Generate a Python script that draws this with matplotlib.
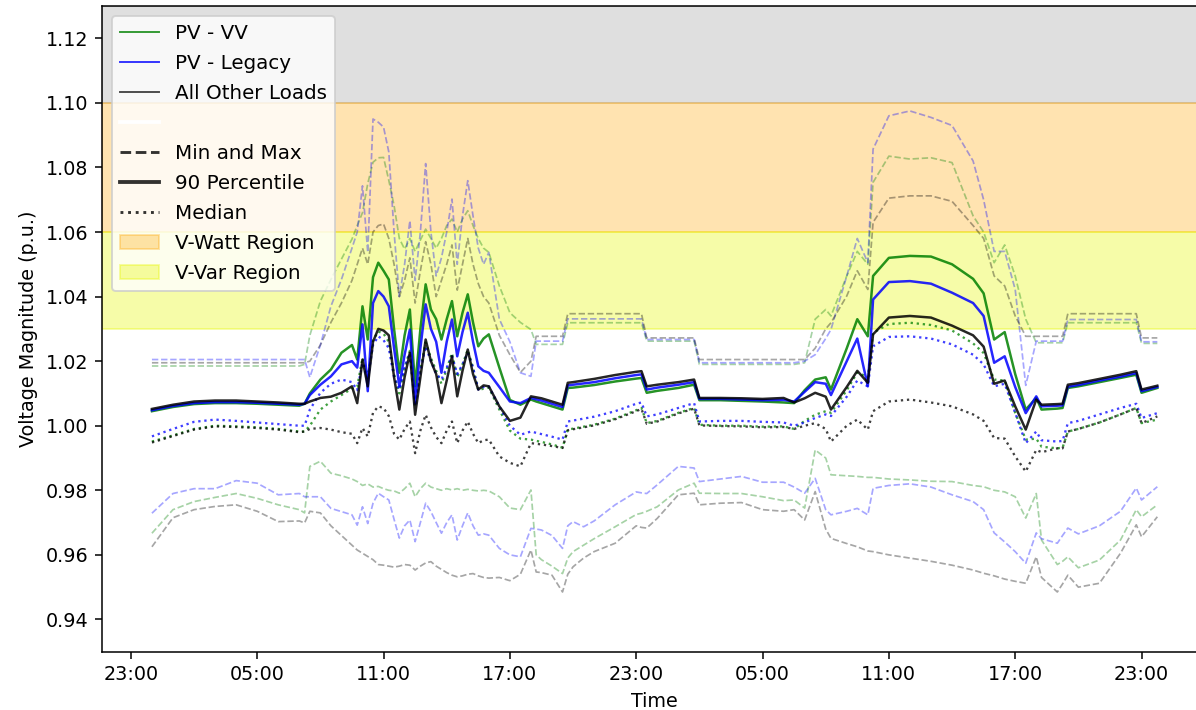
import numpy as np
import pandas as pd
import matplotlib
matplotlib.use("Agg")
import matplotlib.pyplot as plt
import matplotlib.dates as mdates
from matplotlib.lines import Line2D
from matplotlib.patches import Patch

# hours after midnight of the first day
hours = [0, 1, 2, 3, 4, 5, 6, 7,
         7.25, 7.5, 8, 8.5, 9, 9.5,
         9.75, 10, 10.25, 10.5, 10.75, 11, 11.25, 11.5, 11.75, 12, 12.25, 12.5, 12.75,
         13, 13.25, 13.5, 13.75, 14, 14.25, 14.5, 14.75, 15, 15.25, 15.5, 15.75, 16,
         16.5, 17, 17.5, 18, 18.25, 18.5, 19, 19.5, 19.75, 20,
         20.5, 21, 22, 23, 23.25, 23.5, 24, 25, 25.75, 26,
         27, 28, 29, 30, 30.5, 31, 31.5, 32, 32.25, 33,
         33.5, 34, 34.25, 35, 36, 37, 38, 39, 39.5, 40,
         40.5, 41, 41.5, 42, 42.25, 43, 43.25, 43.5, 44, 45,
         46, 46.75, 47, 47.75]

# PV - VV
vv_max = [1.0185] * 8 + [
    1.0190, 1.0280, 1.0386, 1.0453, 1.0516, 1.0578,
    1.0620, 1.0660, 1.0750, 1.0816, 1.0830, 1.0831, 1.0760, 1.0682, 1.0580, 1.0547, 1.0580, 1.0540, 1.0575,
    1.0609, 1.0580, 1.0550, 1.0580, 1.0620, 1.0640, 1.0600, 1.0640, 1.0666, 1.0620, 1.0580, 1.0550, 1.0537,
    1.0433, 1.0350, 1.0320, 1.0298, 1.0252, 1.0252, 1.0252, 1.0252, 1.0319, 1.0319,
    1.0319, 1.0319, 1.0319, 1.0319, 1.0319, 1.0262, 1.0262, 1.0262, 1.0262, 1.0190,
    1.0190, 1.0190, 1.0190, 1.0190, 1.0190, 1.0195, 1.0330, 1.0360, 1.0340, 1.0464,
    1.0540, 1.0500, 1.0754, 1.0835, 1.0826, 1.0830, 1.0815, 1.0650, 1.0600, 1.0505,
    1.0560, 1.0464, 1.0330, 1.0257, 1.0257, 1.0257, 1.0257, 1.0319, 1.0319, 1.0319,
    1.0319, 1.0319, 1.0255, 1.0255]
vv_p90 = [
    1.0045, 1.0058, 1.0067, 1.0070, 1.0070, 1.0068, 1.0065, 1.0062,
    1.0068, 1.0100, 1.0143, 1.0174, 1.0226, 1.0250,
    1.0205, 1.0370, 1.0267, 1.0460, 1.0505, 1.0480, 1.0453, 1.0300, 1.0164, 1.0280, 1.0360, 1.0122, 1.0300,
    1.0438, 1.0360, 1.0330, 1.0267, 1.0330, 1.0386, 1.0277, 1.0350, 1.0407, 1.0320, 1.0246, 1.0270, 1.0283,
    1.0180, 1.0080, 1.0065, 1.0081, 1.0075, 1.0070, 1.0060, 1.0050, 1.0117, 1.0118,
    1.0122, 1.0126, 1.0137, 1.0146, 1.0148, 1.0102, 1.0108, 1.0117, 1.0127, 1.0079,
    1.0079, 1.0077, 1.0075, 1.0072, 1.0070, 1.0110, 1.0143, 1.0150, 1.0112, 1.0240,
    1.0330, 1.0277, 1.0464, 1.0520, 1.0526, 1.0524, 1.0500, 1.0455, 1.0410, 1.0267,
    1.0290, 1.0160, 1.0050, 1.0086, 1.0050, 1.0053, 1.0055, 1.0117, 1.0122, 1.0135,
    1.0148, 1.0158, 1.0102, 1.0117]
vv_med = [
    0.9951, 0.9970, 0.9990, 1.0000, 0.9998, 0.9995, 0.9990, 0.9982,
    0.9982, 1.0000, 1.0050, 1.0075, 1.0095, 1.0115,
    1.0120, 1.0210, 1.0150, 1.0265, 1.0292, 1.0285, 1.0260, 1.0160, 1.0100, 1.0180, 1.0232, 1.0060, 1.0175,
    1.0258, 1.0210, 1.0170, 1.0130, 1.0175, 1.0225, 1.0150, 1.0190, 1.0235, 1.0180, 1.0110, 1.0115, 1.0118,
    1.0050, 0.9985, 0.9960, 0.9957, 0.9953, 0.9950, 0.9942, 0.9932, 0.9988, 0.9991,
    0.9997, 1.0003, 1.0022, 1.0048, 1.0055, 1.0008, 1.0015, 1.0040, 1.0055, 1.0003,
    1.0000, 1.0000, 0.9997, 0.9998, 0.9990, 1.0015, 1.0034, 1.0045, 1.0040, 1.0110,
    1.0165, 1.0150, 1.0288, 1.0315, 1.0319, 1.0312, 1.0295, 1.0255, 1.0225, 1.0143,
    1.0140, 1.0040, 0.9957, 0.9960, 0.9935, 0.9930, 0.9932, 0.9982, 0.9990, 1.0010,
    1.0035, 1.0055, 1.0008, 1.0019]
vv_min = [
    0.9667, 0.9740, 0.9765, 0.9778, 0.9790, 0.9775, 0.9755, 0.9740,
    0.9730, 0.9874, 0.9890, 0.9853, 0.9845, 0.9835,
    0.9827, 0.9815, 0.9820, 0.9810, 0.9812, 0.9805, 0.9800, 0.9798, 0.9791, 0.9805, 0.9822, 0.9780, 0.9805,
    0.9822, 0.9810, 0.9805, 0.9800, 0.9805, 0.9801, 0.9805, 0.9800, 0.9803, 0.9800, 0.9798, 0.9800, 0.9798,
    0.9780, 0.9745, 0.9740, 0.9801, 0.9600, 0.9585, 0.9565, 0.9542, 0.9590, 0.9610,
    0.9630, 0.9650, 0.9687, 0.9725, 0.9729, 0.9735, 0.9749, 0.9801, 0.9822, 0.9791,
    0.9790, 0.9790, 0.9780, 0.9768, 0.9770, 0.9745, 0.9925, 0.9900, 0.9848, 0.9845,
    0.9843, 0.9840, 0.9840, 0.9835, 0.9832, 0.9828, 0.9827, 0.9815, 0.9811, 0.9800,
    0.9795, 0.9780, 0.9714, 0.9790, 0.9646, 0.9570, 0.9580, 0.9594, 0.9560, 0.9584,
    0.9646, 0.9740, 0.9718, 0.9755]

# PV - Legacy
leg_max = [1.0205] * 8 + [
    1.0205, 1.0150, 1.0250, 1.0370, 1.0453, 1.0550,
    1.0600, 1.0743, 1.0537, 1.0950, 1.0940, 1.0925, 1.0848, 1.0600, 1.0400, 1.0500, 1.0635, 1.0450, 1.0600,
    1.0812, 1.0600, 1.0464, 1.0520, 1.0600, 1.0702, 1.0500, 1.0650, 1.0759, 1.0650, 1.0550, 1.0500, 1.0537,
    1.0330, 1.0260, 1.0164, 1.0153, 1.0262, 1.0262, 1.0262, 1.0262, 1.0331, 1.0331,
    1.0331, 1.0331, 1.0331, 1.0331, 1.0331, 1.0267, 1.0267, 1.0267, 1.0267, 1.0195,
    1.0195, 1.0195, 1.0195, 1.0195, 1.0195, 1.0200, 1.0220, 1.0270, 1.0298, 1.0464,
    1.0580, 1.0505, 1.0857, 1.0960, 1.0975, 1.0955, 1.0930, 1.0820, 1.0700, 1.0540,
    1.0540, 1.0422, 1.0125, 1.0262, 1.0262, 1.0262, 1.0262, 1.0329, 1.0329, 1.0329,
    1.0329, 1.0329, 1.0260, 1.0260]
leg_p90 = [
    1.0048, 1.0061, 1.0070, 1.0073, 1.0073, 1.0071, 1.0068, 1.0065,
    1.0068, 1.0095, 1.0127, 1.0153, 1.0190, 1.0200,
    1.0180, 1.0314, 1.0107, 1.0380, 1.0417, 1.0400, 1.0370, 1.0240, 1.0122, 1.0220, 1.0298, 1.0070, 1.0240,
    1.0376, 1.0300, 1.0260, 1.0164, 1.0260, 1.0329, 1.0215, 1.0290, 1.0350, 1.0260, 1.0184, 1.0170, 1.0164,
    1.0120, 1.0075, 1.0070, 1.0086, 1.0082, 1.0078, 1.0068, 1.0058, 1.0125, 1.0127,
    1.0131, 1.0135, 1.0147, 1.0157, 1.0159, 1.0112, 1.0118, 1.0127, 1.0135, 1.0083,
    1.0083, 1.0081, 1.0079, 1.0080, 1.0075, 1.0105, 1.0135, 1.0130, 1.0095, 1.0200,
    1.0270, 1.0122, 1.0391, 1.0445, 1.0448, 1.0440, 1.0412, 1.0380, 1.0340, 1.0195,
    1.0215, 1.0120, 1.0039, 1.0091, 1.0060, 1.0062, 1.0063, 1.0121, 1.0126, 1.0140,
    1.0152, 1.0163, 1.0107, 1.0120]
leg_med = [
    0.9967, 0.9990, 1.0012, 1.0019, 1.0015, 1.0010, 1.0005, 1.0000,
    1.0000, 1.0050, 1.0102, 1.0130, 1.0143, 1.0135,
    1.0110, 1.0195, 1.0143, 1.0250, 1.0277, 1.0265, 1.0240, 1.0150, 1.0112, 1.0180, 1.0226, 1.0060, 1.0170,
    1.0246, 1.0200, 1.0160, 1.0143, 1.0180, 1.0215, 1.0160, 1.0190, 1.0226, 1.0180, 1.0112, 1.0120, 1.0122,
    1.0060, 1.0000, 0.9972, 0.9982, 0.9978, 0.9974, 0.9966, 0.9957, 1.0013, 1.0016,
    1.0022, 1.0028, 1.0045, 1.0068, 1.0072, 1.0029, 1.0035, 1.0055, 1.0070, 1.0013,
    1.0015, 1.0015, 1.0012, 1.0010, 1.0000, 1.0010, 1.0024, 1.0035, 1.0030, 1.0090,
    1.0140, 1.0122, 1.0246, 1.0275, 1.0277, 1.0270, 1.0252, 1.0220, 1.0190, 1.0122,
    1.0130, 1.0040, 0.9946, 0.9982, 0.9955, 0.9951, 0.9953, 1.0008, 1.0015, 1.0035,
    1.0055, 1.0068, 1.0024, 1.0039]
leg_min = [
    0.9729, 0.9790, 0.9805, 0.9805, 0.9830, 0.9822, 0.9786, 0.9790,
    0.9780, 0.9780, 0.9780, 0.9744, 0.9734, 0.9724,
    0.9692, 0.9749, 0.9697, 0.9760, 0.9791, 0.9780, 0.9770, 0.9710, 0.9652, 0.9690, 0.9708, 0.9641, 0.9700,
    0.9760, 0.9734, 0.9700, 0.9667, 0.9700, 0.9724, 0.9646, 0.9690, 0.9730, 0.9690, 0.9661, 0.9665, 0.9661,
    0.9620, 0.9600, 0.9594, 0.9682, 0.9680, 0.9677, 0.9660, 0.9620, 0.9690, 0.9703,
    0.9687, 0.9705, 0.9755, 0.9795, 0.9792, 0.9790, 0.9817, 0.9874, 0.9869, 0.9827,
    0.9835, 0.9843, 0.9825, 0.9825, 0.9810, 0.9791, 0.9837, 0.9740, 0.9724, 0.9735,
    0.9744, 0.9724, 0.9806, 0.9815, 0.9820, 0.9810, 0.9786, 0.9765, 0.9740, 0.9668,
    0.9640, 0.9610, 0.9574, 0.9668, 0.9650, 0.9636, 0.9660, 0.9683, 0.9665, 0.9690,
    0.9735, 0.9807, 0.9770, 0.9811]

# All other loads
aol_max = [1.0195] * 8 + [
    1.0195, 1.0200, 1.0250, 1.0320, 1.0380, 1.0450,
    1.0500, 1.0550, 1.0500, 1.0600, 1.0620, 1.0625, 1.0580, 1.0500, 1.0400, 1.0450, 1.0520, 1.0380, 1.0480,
    1.0570, 1.0500, 1.0400, 1.0450, 1.0500, 1.0560, 1.0420, 1.0500, 1.0580, 1.0500, 1.0440, 1.0400, 1.0380,
    1.0280, 1.0220, 1.0165, 1.0200, 1.0277, 1.0277, 1.0277, 1.0277, 1.0347, 1.0347,
    1.0347, 1.0347, 1.0347, 1.0347, 1.0347, 1.0272, 1.0272, 1.0272, 1.0272, 1.0205,
    1.0205, 1.0205, 1.0205, 1.0205, 1.0205, 1.0205, 1.0240, 1.0300, 1.0319, 1.0402,
    1.0480, 1.0422, 1.0630, 1.0705, 1.0712, 1.0712, 1.0695, 1.0620, 1.0580, 1.0464,
    1.0433, 1.0340, 1.0277, 1.0277, 1.0277, 1.0277, 1.0277, 1.0347, 1.0347, 1.0347,
    1.0347, 1.0347, 1.0272, 1.0272]
aol_p90 = [
    1.0052, 1.0065, 1.0075, 1.0078, 1.0078, 1.0075, 1.0072, 1.0068,
    1.0068, 1.0075, 1.0086, 1.0090, 1.0102, 1.0122,
    1.0070, 1.0205, 1.0122, 1.0260, 1.0300, 1.0295, 1.0280, 1.0150, 1.0050, 1.0150, 1.0226, 1.0034, 1.0150,
    1.0267, 1.0200, 1.0160, 1.0070, 1.0140, 1.0215, 1.0091, 1.0170, 1.0236, 1.0160, 1.0112, 1.0125, 1.0122,
    1.0060, 1.0015, 1.0025, 1.0091, 1.0088, 1.0085, 1.0075, 1.0065, 1.0133, 1.0135,
    1.0140, 1.0145, 1.0157, 1.0167, 1.0169, 1.0122, 1.0127, 1.0135, 1.0143, 1.0086,
    1.0086, 1.0085, 1.0083, 1.0086, 1.0072, 1.0085, 1.0102, 1.0090, 1.0050, 1.0120,
    1.0170, 1.0133, 1.0283, 1.0335, 1.0340, 1.0335, 1.0310, 1.0280, 1.0245, 1.0130,
    1.0140, 1.0060, 0.9988, 1.0081, 1.0065, 1.0067, 1.0068, 1.0127, 1.0132, 1.0145,
    1.0158, 1.0169, 1.0112, 1.0124]
aol_med = [
    0.9948, 0.9968, 0.9988, 0.9998, 0.9996, 0.9993, 0.9988, 0.9980,
    0.9982, 0.9990, 0.9993, 0.9988, 0.9980, 0.9975,
    0.9946, 0.9993, 0.9967, 1.0040, 1.0060, 1.0055, 1.0030, 0.9975, 0.9957, 0.9990, 1.0013, 0.9915, 0.9985,
    1.0034, 0.9995, 0.9965, 0.9946, 0.9985, 1.0013, 0.9946, 0.9985, 1.0013, 0.9975, 0.9946, 0.9955, 0.9957,
    0.9905, 0.9885, 0.9874, 0.9946, 0.9944, 0.9942, 0.9937, 0.9931, 0.9986, 0.9989,
    0.9995, 1.0001, 1.0020, 1.0045, 1.0052, 1.0006, 1.0013, 1.0038, 1.0053, 1.0001,
    0.9999, 0.9998, 0.9995, 0.9996, 0.9990, 1.0000, 1.0008, 0.9990, 0.9951, 1.0000,
    1.0019, 0.9988, 1.0045, 1.0075, 1.0081, 1.0072, 1.0060, 1.0035, 1.0015, 0.9962,
    0.9960, 0.9905, 0.9858, 0.9925, 0.9918, 0.9930, 0.9930, 0.9982, 0.9990, 1.0010,
    1.0035, 1.0055, 1.0008, 1.0029]
aol_min = [
    0.9625, 0.9715, 0.9740, 0.9750, 0.9755, 0.9735, 0.9703, 0.9705,
    0.9699, 0.9735, 0.9730, 0.9690, 0.9660, 0.9630,
    0.9615, 0.9605, 0.9595, 0.9585, 0.9570, 0.9568, 0.9565, 0.9562, 0.9565, 0.9570, 0.9568, 0.9553, 0.9565,
    0.9575, 0.9579, 0.9565, 0.9555, 0.9545, 0.9537, 0.9532, 0.9535, 0.9540, 0.9542, 0.9535, 0.9530, 0.9528,
    0.9530, 0.9520, 0.9540, 0.9615, 0.9547, 0.9545, 0.9537, 0.9485, 0.9540, 0.9563,
    0.9590, 0.9610, 0.9636, 0.9690, 0.9685, 0.9683, 0.9713, 0.9786, 0.9791, 0.9755,
    0.9760, 0.9762, 0.9740, 0.9735, 0.9740, 0.9708, 0.9796, 0.9680, 0.9651, 0.9635,
    0.9625, 0.9612, 0.9610, 0.9600, 0.9590, 0.9580, 0.9568, 0.9553, 0.9543, 0.9535,
    0.9525, 0.9518, 0.9512, 0.9594, 0.9530, 0.9485, 0.9510, 0.9537, 0.9500, 0.9512,
    0.9605, 0.9693, 0.9656, 0.9718]

groups = [
    ("PV - VV", "green", vv_max, vv_p90, vv_med, vv_min),
    ("PV - Legacy", "blue", leg_max, leg_p90, leg_med, leg_min),
    ("All Other Loads", "black", aol_max, aol_p90, aol_med, aol_min),
]

times = pd.Timestamp("2018-07-01") + pd.to_timedelta(hours, unit="h")
times = times.to_pydatetime()

fig = plt.figure(figsize=(1196 / 138, 710 / 138), dpi=138)
ax = fig.add_axes([0.085, 0.0821, 0.9247, 0.9094])

# operating regions
ax.axhspan(1.10, 1.13, color="gray", alpha=0.25)
ax.axhspan(1.06, 1.10, color="orange", alpha=0.31)
ax.axhspan(1.03, 1.06, color=(0.9, 0.97, 0.0), alpha=0.34)

for name, c, vmax, p90, med, vmin in groups:
    ax.plot(times, vmax, "--", color=c, lw=0.9, alpha=0.35)
    ax.plot(times, vmin, "--", color=c, lw=0.9, alpha=0.35)
    ax.plot(times, med, ":", color=c, lw=1.2, alpha=0.75)
    ax.plot(times, p90, "-", color=c, lw=1.3, alpha=0.85)

ax.set_ylim(0.93, 1.13)
ax.set_yticks(np.arange(0.94, 1.121, 0.02))
ax.xaxis.set_major_locator(mdates.HourLocator(byhour=[5, 11, 17, 23]))
ax.xaxis.set_major_formatter(mdates.DateFormatter("%H:%M"))
ax.set_xlabel("Time")
ax.set_ylabel("Voltage Magnitude (p.u.)")

handles = [
    Line2D([0], [0], color="green", lw=1, alpha=0.8, label="PV - VV"),
    Line2D([0], [0], color="blue", lw=1, alpha=0.8, label="PV - Legacy"),
    Line2D([0], [0], color="black", lw=1, alpha=0.7, label="All Other Loads"),
    Line2D([0], [0], color="white", lw=2, label=" "),
    Line2D([0], [0], color="black", ls="--", lw=1.5, alpha=0.8, label="Min and Max"),
    Line2D([0], [0], color="black", ls="-", lw=2, alpha=0.8, label="90 Percentile"),
    Line2D([0], [0], color="black", ls=":", lw=1.5, alpha=0.8, label="Median"),
    Patch(color="orange", alpha=0.31, label="V-Watt Region"),
    Patch(color=(0.9, 0.97, 0.0), alpha=0.34, label="V-Var Region"),
]
ax.legend(handles=handles, loc="upper left", fontsize=10.4, labelspacing=0.55)

fig.savefig("out.png", dpi=138)
